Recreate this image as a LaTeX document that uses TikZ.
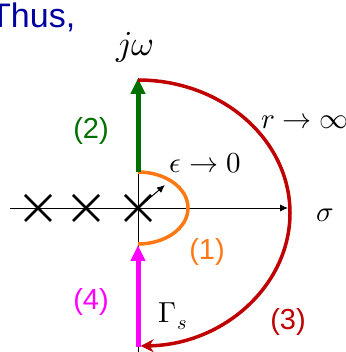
\documentclass[tikz,border=0pt]{standalone}
\usepackage{amsmath}
\usepackage{fontspec}
\usepackage{unicode-math}
\setmainfont{Liberation Sans}
\setmathfont{Latin Modern Math}
\usetikzlibrary{calc}
\usetikzlibrary{arrows.meta}

\definecolor{pathgreen}{RGB}{0,112,0}
\definecolor{pathred}{RGB}{192,0,0}
\definecolor{pathorange}{RGB}{255,120,20}
\definecolor{pathmagenta}{RGB}{255,0,255}
\definecolor{thusblue}{RGB}{0,0,160}

\tikzset{
  lbl/.style={inner sep=0pt, font=\fontsize{29}{34}\selectfont},
  mlbl/.style={inner sep=0pt, font=\fontsize{29}{34}\selectfont},
  pole/.style={line width=2.6pt, black},
}

\begin{document}
\begin{tikzpicture}[x=1pt, y=1pt]
    \useasboundingbox (-138, -144) rectangle (207, 208);

    \coordinate (O) at (0, 0);
    \coordinate (wend) at (-128, 0);
    \coordinate (sigend) at (150, 0);
    \coordinate (vbot) at (0, -144);
    \coordinate (vtop) at (0, 130);
    \coordinate (etop) at (0, 36);
    \coordinate (ebot) at (0, -36);
    \coordinate (rtop) at (0, 128);
    \coordinate (rbot) at (2, -139);
    \coordinate (eps) at (27, 23);

    % axes
    \draw [line width=0.8pt, -{Latex[length=8pt,width=7pt]}] (wend) -- (sigend);
    \draw [line width=0.8pt] (vbot) -- (vtop);

    % poles
    \foreach \p in {-100, -52, 0} {
      \draw [pole] (\p-13, -13) -- (\p+13, 13);
      \draw [pole] (\p-13, 13) -- (\p+13, -13);
    }

    % the contour
    \draw [pathorange, line width=3.5pt] (etop) arc[start angle=90, end angle=-90, x radius=50, y radius=36];
    \draw [pathgreen, line width=5pt, -{Triangle[length=16pt,width=14pt]}] (etop) -- (vtop);
    \draw [pathred, line width=3.5pt, -{Stealth[length=13pt,width=13pt]}]
      (rtop) arc[start angle=90, end angle=-89, x radius=152, y radius=133];
    \draw [pathmagenta, line width=5pt, -{Triangle[length=16pt,width=14pt]}] (rbot) ++(-2,0) -- (0, -37);
    \draw [line width=1pt, -{Latex[length=8pt,width=7pt]}] (O) -- (eps);

    % labels
    \node[anchor=base west, inner sep=0pt, text=thusblue, font=\fontsize{34}{40}\selectfont] (thus) at (-148, 180) {Thus,};
    \node[mlbl, font=\fontsize{35}{40}\selectfont] (jw) at (-3, 160) {$j\omega$};
    \node[mlbl, anchor=west] (rinf) at (123, 87) {$r\rightarrow\infty$};
    \node[mlbl] (eps0) at (67, 45) {$\epsilon\rightarrow 0$};
    \node[mlbl] (sig) at (187, -7) {$\sigma$};
    \node[mlbl] (gam) at (35, -108) {$\Gamma_s$};
    \node[lbl, text=pathgreen] (n2) at (-47, 77) {(2)};
    \node[lbl, text=pathorange] (n1) at (69, -44) {(1)};
    \node[lbl, text=pathmagenta] (n4) at (-47, -94) {(4)};
    \node[lbl, text=pathred] (n3) at (150, -114) {(3)};
\end{tikzpicture}
\end{document}
